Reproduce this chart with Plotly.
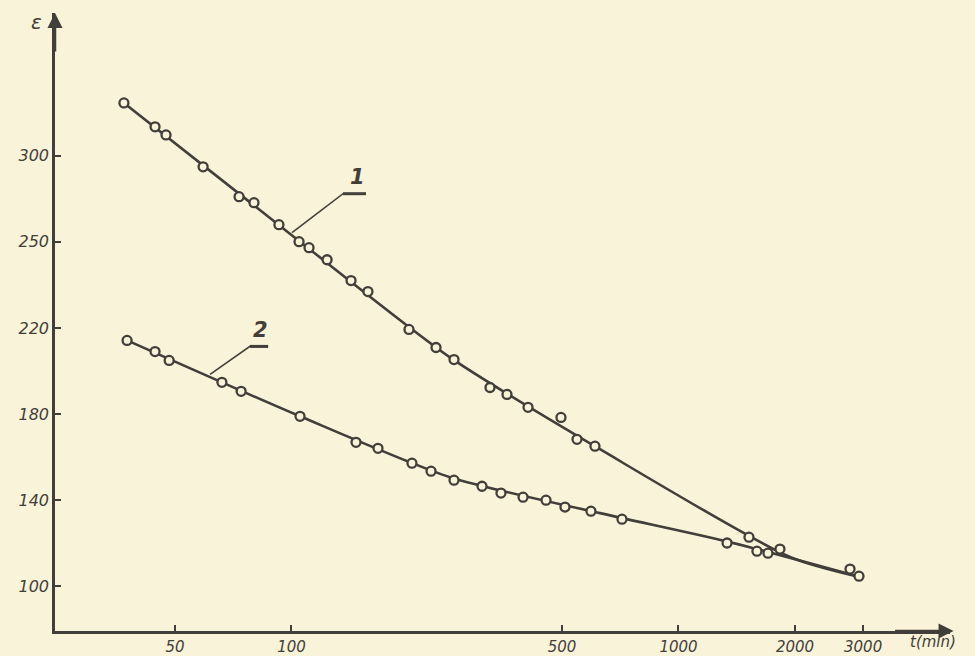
import math
import plotly.graph_objects as go

# Data
t1 = [36.9, 44.4, 47.4, 59.1, 73.2, 80.0, 92.8, 104.6, 111.0, 123.6, 142.5, 157.6,
      201.2, 236.3, 263.0, 325.8, 360.5, 408.5, 497, 546.7, 608.4, 1521, 1829, 2775]
e1 = [324.6, 313.5, 309.7, 294.9, 281.0, 278.2, 268.0, 260.1, 257.3, 251.7, 242.0, 236.9,
      219.3, 210.9, 205.3, 192.3, 189.1, 183.1, 178.4, 168.2, 165.0, 122.7, 117.2, 107.9]

t2 = [37.6, 44.4, 48.3, 66.1, 74.1, 105.2, 146.8, 167.3, 204.8, 229.4, 263.0, 310.7,
      347.8, 396.6, 454.7, 509, 594, 714.5, 1335, 1595, 1703, 2927]
e2 = [214.2, 209.0, 204.9, 194.7, 190.5, 178.9, 166.8, 164.0, 157.1, 153.4, 149.2, 146.4,
      143.2, 141.3, 139.9, 136.7, 134.8, 131.1, 120.0, 116.2, 115.3, 104.6]

# drawn (fitted) curves
fit1_t = [36.9, 105.2, 256.8, 626.8, 1942, 2944]
fit1_e = [324.6, 260.1, 206.3, 163.6, 113.5, 104.2]
fit2_t = [37.6, 105.2, 256.8, 626.8, 1359, 2944]
fit2_e = [214.2, 178.9, 150.6, 133.9, 120.4, 104.2]

x_ticks = [50, 100, 500, 1000, 2000, 3000]
x_labels = ["50", "100", "500", "1000", "2000", "3000"]
y_ticks = [100, 140, 180, 220, 260, 300]
y_labels = ["100", "140", "180", "220", "250", "300"]

BG = "#F9F3D9"
INK = "#423E39"
FONT = "DejaVu Sans"

fig = go.Figure()
for ft, fe in [(fit1_t, fit1_e), (fit2_t, fit2_e)]:
    fig.add_trace(go.Scatter(x=ft, y=fe, mode="lines",
                             line=dict(color=INK, width=2.6, shape="spline", smoothing=0.7),
                             hoverinfo="skip", showlegend=False))
for tt, ee in [(t1, e1), (t2, e2)]:
    fig.add_trace(go.Scatter(x=tt, y=ee, mode="markers",
                             marker=dict(symbol="circle", size=9, color=BG,
                                         line=dict(color=INK, width=2.3)),
                             showlegend=False))

# leader lines for curve labels
fig.add_trace(go.Scatter(x=[100.3, 135.9, 155.8], y=[264.3, 282.4, 282.4], mode="lines",
                         line=dict(color=INK, width=1.6), showlegend=False, hoverinfo="skip"))
fig.add_trace(go.Scatter(x=[61.6, 78.1, 87.0], y=[198.4, 211.4, 211.4], mode="lines",
                         line=dict(color=INK, width=1.6), showlegend=False, hoverinfo="skip"))
# thicker underline stroke
fig.add_trace(go.Scatter(x=[135.9, 155.8], y=[282.4, 282.4], mode="lines",
                         line=dict(color=INK, width=3), showlegend=False, hoverinfo="skip"))
fig.add_trace(go.Scatter(x=[78.1, 87.0], y=[211.4, 211.4], mode="lines",
                         line=dict(color=INK, width=3), showlegend=False, hoverinfo="skip"))

fig.add_annotation(x=math.log10(148), y=283.5, xref="x", yref="y", text="<b>1</b>",
                   showarrow=False, yanchor="bottom",
                   font=dict(family=FONT, size=21, color=INK, style="italic"))
fig.add_annotation(x=math.log10(83), y=212.5, xref="x", yref="y", text="<b>2</b>",
                   showarrow=False, yanchor="bottom",
                   font=dict(family=FONT, size=21, color=INK, style="italic"))

# axis arrows
fig.add_annotation(x=0, y=1, xref="paper", yref="paper", ax=0, ay=40, showarrow=True,
                   arrowhead=2, arrowsize=1.2, arrowwidth=2.5, arrowcolor=INK, text="")
fig.add_annotation(x=1.004, y=0, xref="paper", yref="paper", ax=-60, ay=0, showarrow=True,
                   arrowhead=2, arrowsize=1.2, arrowwidth=2.5, arrowcolor=INK, text="")
fig.add_annotation(x=-0.012, y=0.985, xref="paper", yref="paper", text="ε", showarrow=False,
                   xanchor="right", yanchor="middle",
                   font=dict(family=FONT, size=20, color=INK, style="italic"))
fig.add_annotation(x=1.0, y=0, xref="paper", yref="paper", text="t(min)", showarrow=False,
                   xanchor="left", yanchor="top", xshift=-42, yshift=0,
                   font=dict(family=FONT, size=15, color=INK, style="italic"))

fig.update_xaxes(type="log", range=[1.3889, 3.7016], tickvals=x_ticks, ticktext=x_labels,
                 ticks="inside", ticklen=6, tickwidth=1.6, tickcolor=INK, automargin=False,
                 showline=True, linecolor=INK, linewidth=2.5, showgrid=False, zeroline=False,
                 tickfont=dict(family=FONT, size=15, color=INK, style="italic"))
fig.update_yaxes(range=[79.1, 366.4], tickvals=y_ticks, ticktext=y_labels,
                 ticks="inside", ticklen=6, tickwidth=1.6, tickcolor=INK, automargin=False,
                 showline=True, linecolor=INK, linewidth=2.5, showgrid=False, zeroline=False,
                 tickfont=dict(family=FONT, size=16, color=INK, style="italic"))

fig.update_layout(width=975, height=656, margin=dict(l=55, r=25, t=13, b=25),
                  paper_bgcolor=BG, plot_bgcolor=BG)

fig.write_html("out.html")
